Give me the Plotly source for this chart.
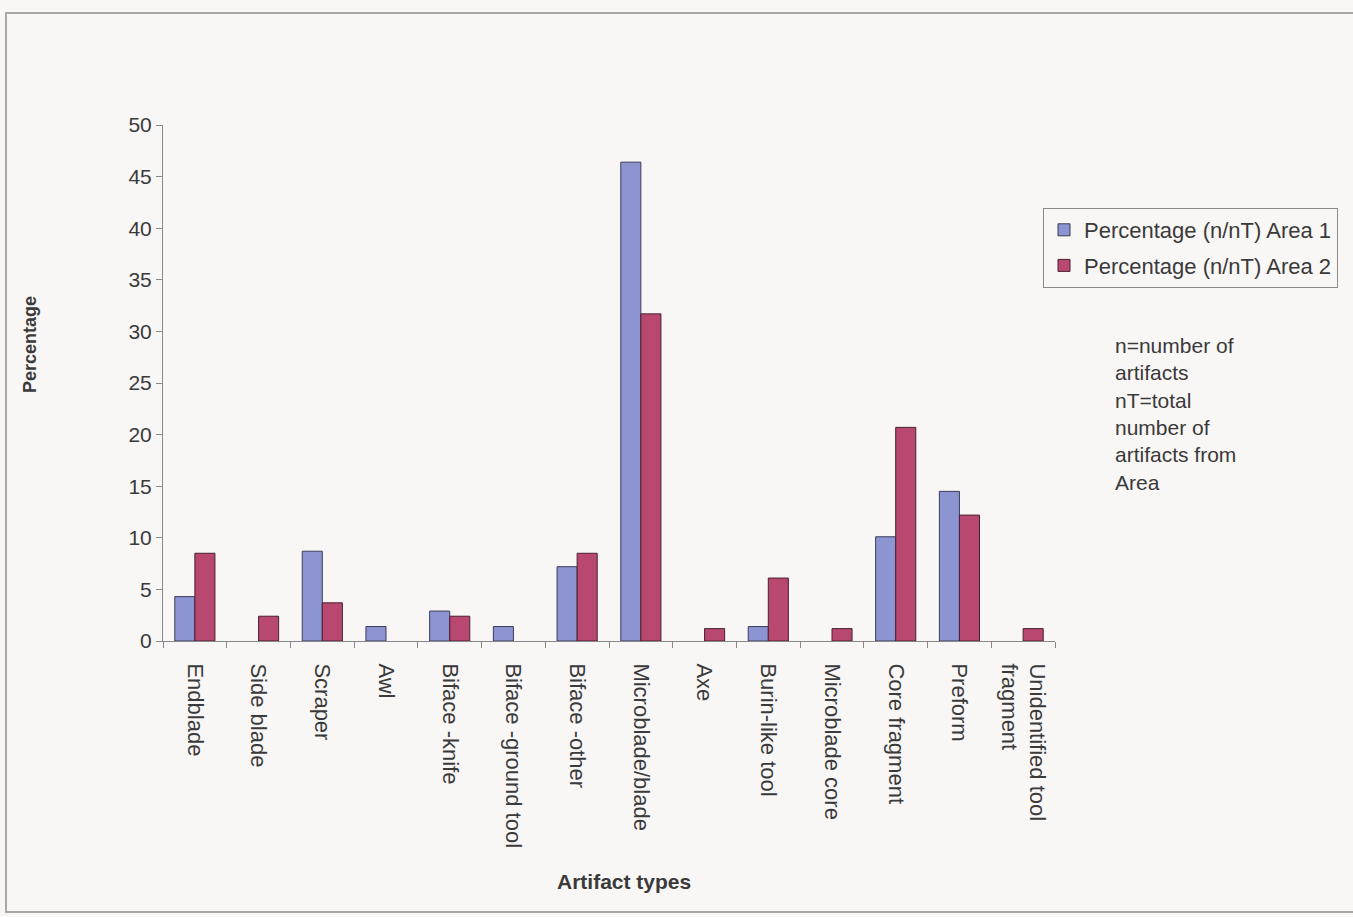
import plotly.graph_objects as go

categories = [
    "Endblade", "Side blade", "Scraper", "Awl", "Biface -knife",
    "Biface -ground tool", "Biface -other", "Microblade/blade", "Axe",
    "Burin-like tool", "Microblade core", "Core fragment", "Preform",
    "Unidentified tool<br>fragment",
]
area1_pct = [4.3, 0, 8.7, 1.4, 2.9, 1.4, 7.2, 46.4, 0, 1.4, 0, 10.1, 14.5, 0]
area2_pct = [8.5, 2.4, 3.7, 0, 2.4, 0, 8.5, 31.7, 1.2, 6.1, 1.2, 20.7, 12.2, 1.2]
y_ticks = [0, 5, 10, 15, 20, 25, 30, 35, 40, 45, 50]

BG = "#f9f6f6"
TXT = "#3a3a3a"
FONT = "Liberation Sans, Arial, sans-serif"

W, H = 1353, 917
L, R, T, B = 163, 298, 125, 276
pw, ph = W - L - R, H - T - B


def px_x(x):
    return (x - L) / pw


def px_y(y):
    return (H - B - y) / ph


def outline_widths(values):
    # empty categories get no outline at all
    return [1 if v > 0 else 0 for v in values]


fig = go.Figure()
fig.add_trace(go.Bar(
    x=categories, y=area1_pct, name="Percentage (n/nT) Area 1", legendgroup="a1",
    marker=dict(color="#8c94d2",
                line=dict(color="#3c3c5a", width=outline_widths(area1_pct))),
))
fig.add_trace(go.Bar(
    x=categories, y=area2_pct, name="Percentage (n/nT) Area 2", legendgroup="a2",
    marker=dict(color="#b8486f",
                line=dict(color="#4a2030", width=outline_widths(area2_pct))),
))

fig.update_layout(
    width=W, height=H,
    margin=dict(l=L, r=R, t=T, b=B, pad=0),
    paper_bgcolor=BG, plot_bgcolor=BG,
    barmode="group", bargap=0.37, bargroupgap=0,
    font=dict(family=FONT, size=21, color=TXT),
    showlegend=True,
    legend=dict(
        x=px_x(1043), y=px_y(208), xanchor="left", yanchor="top",
        bgcolor=BG, bordercolor="#8a8a8a", borderwidth=1,
        font=dict(family=FONT, size=22, color=TXT),
        traceorder="grouped", tracegroupgap=4,
    ),
    xaxis=dict(
        type="category", tickangle=90, tickson="boundaries",
        ticks="outside", ticklen=6, tickcolor="#888",
        ticklabelstandoff=17,
        showline=True, linecolor="#888", linewidth=1,
        showgrid=False, zeroline=False,
        tickfont=dict(family=FONT, size=22, color=TXT),
        automargin=False,
    ),
    yaxis=dict(
        range=[0, 50], tickvals=y_ticks,
        ticks="outside", ticklen=6, tickcolor="#888",
        showline=True, linecolor="#888", linewidth=1,
        showgrid=False, zeroline=False,
        tickfont=dict(family=FONT, size=21, color=TXT),
        automargin=False,
    ),
)

# axis titles
fig.add_annotation(
    xref="paper", yref="paper", x=px_x(30), y=px_y(345),
    xanchor="center", yanchor="middle", textangle=-90, showarrow=False,
    text="<b>Percentage</b>", font=dict(family=FONT, size=18, color=TXT),
)
fig.add_annotation(
    xref="paper", yref="paper", x=px_x(624), y=px_y(881),
    xanchor="center", yanchor="middle", showarrow=False,
    text="<b>Artifact types</b>", font=dict(family=FONT, size=21, color=TXT),
)

fig.add_annotation(
    xref="paper", yref="paper", x=px_x(1113), y=px_y(332),
    xanchor="left", yanchor="top", align="left", showarrow=False,
    text="n=number of<br>artifacts<br>nT=total<br>number of<br>artifacts from<br>Area",
    font=dict(family=FONT, size=21, color=TXT),
)

# outer frame of the chart
fig.add_shape(
    type="rect", xref="paper", yref="paper",
    x0=px_x(6), x1=px_x(1360), y0=px_y(912), y1=px_y(13),
    line=dict(color="#a8a8a8", width=2), fillcolor="rgba(0,0,0,0)", layer="below",
)

fig.write_html("out.html")
